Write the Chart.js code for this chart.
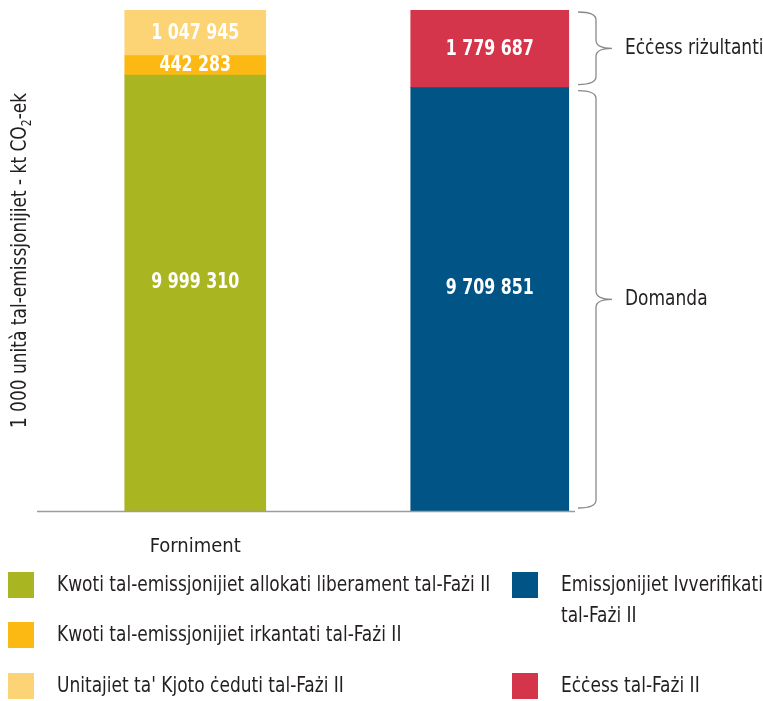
<!DOCTYPE html>
<html>
<head>
<meta charset="utf-8">
<script src="https://cdn.jsdelivr.net/npm/chart.js@4.4.1/dist/chart.umd.min.js"></script>
<style>
  html, body { margin: 0; padding: 0; background: #fff; }
  #wrap { width: 763px; height: 701px; }
</style>
</head>
<body>
<div id="wrap"><canvas id="myChart" width="763" height="701"></canvas></div>
<script>
var FONT = "'Liberation Sans Narrow', 'DejaVu Sans Condensed', sans-serif";
var TEXT = '#231f20';
var SX = 0.86; // horizontal squeeze to get a condensed look

var categories = ['Forniment', ''];
var allocatedFree = [9999310, null];
var auctioned = [442283, null];
var kyotoUnits = [1047945, null];
var verifiedEmissions = [null, 9709851];
var surplus = [null, 1779687];

var seriesNames = [
  'Kwoti tal-emissjonijiet allokati liberament tal-Fażi II',
  'Kwoti tal-emissjonijiet irkantati tal-Fażi II',
  "Unitajiet ta' Kjoto ċeduti tal-Fażi II",
  'Emissjonijiet Ivverifikati tal-Fażi II',
  'Eċċess tal-Fażi II'
];
var braceLabels = ['Eċċess riżultanti', 'Domanda'];
var yTitle = ['1 000 unità tal-emissjonijiet - kt CO', '2', '-ek'];

var colors = ['#a9b621', '#fdb913', '#fcd375', '#005486', '#d5354a'];

function fmt(v) {
  return String(v).replace(/\B(?=(\d{3})+(?!\d))/g, ' ');
}

// draws squeezed text, returns its width on screen
function sText(ctx, txt, x, y, align, font, sx) {
  sx = sx || SX;
  ctx.save();
  ctx.font = font;
  var w = ctx.measureText(txt).width * sx;
  var left = x;
  if (align === 'center') left = x - w / 2;
  ctx.translate(left, y);
  ctx.scale(sx, 1);
  ctx.textAlign = 'left';
  ctx.fillText(txt, 0, 0);
  ctx.restore();
  return w;
}

var overlay = {
  id: 'overlay',
  afterDatasetsDraw: function (chart) {
    var ctx = chart.ctx;
    var y = chart.scales.y;
    var area = chart.chartArea;
    ctx.save();
    ctx.textBaseline = 'middle';

    // value labels
    ctx.fillStyle = '#fff';
    chart.data.datasets.forEach(function (ds, i) {
      var meta = chart.getDatasetMeta(i);
      meta.data.forEach(function (bar, j) {
        var v = ds.data[j];
        if (v == null) return;
        var h = bar.base - bar.y;
        var cy = bar.y + h / 2 - (h > 200 ? 11 : 0);
        sText(ctx, fmt(v), bar.x, cy, 'center', 'bold 22px ' + FONT, 0.8);
      });
    });

    // x axis line
    ctx.strokeStyle = '#9c9c9c';
    ctx.lineWidth = 1.5;
    ctx.beginPath();
    ctx.moveTo(37, area.bottom + 0.5);
    ctx.lineTo(575, area.bottom + 0.5);
    ctx.stroke();

    // braces
    var blueTop = y.getPixelForValue(verifiedEmissions[1]);
    var total = y.getPixelForValue(verifiedEmissions[1] + surplus[1]);
    function brace(y0, y1) {
      var x0 = 578, xs = 596, xt = 612, r = 8;
      var ym = (y0 + y1) / 2;
      ctx.beginPath();
      ctx.moveTo(x0, y0);
      ctx.quadraticCurveTo(xs, y0, xs, y0 + r);
      ctx.lineTo(xs, ym - r);
      ctx.quadraticCurveTo(xs, ym, xt, ym);
      ctx.quadraticCurveTo(xs, ym, xs, ym + r);
      ctx.lineTo(xs, y1 - r);
      ctx.quadraticCurveTo(xs, y1, x0, y1);
      ctx.stroke();
      return ym;
    }
    ctx.strokeStyle = '#8a8a8a';
    ctx.lineWidth = 1.3;
    var m1 = brace(total + 2, blueTop - 3);
    var m2 = brace(blueTop + 3, area.bottom - 3);
    ctx.fillStyle = TEXT;
    var f22 = '22px ' + FONT;
    sText(ctx, braceLabels[0], 625, m1, 'left', f22);
    sText(ctx, braceLabels[1], 625, m2, 'left', f22);

    // y title
    ctx.save();
    ctx.translate(20, (area.top + area.bottom) / 2);
    ctx.rotate(-Math.PI / 2);
    ctx.font = f22;
    var w0 = ctx.measureText(yTitle[0]).width * SX;
    ctx.font = '14px ' + FONT;
    var w1 = ctx.measureText(yTitle[1]).width * SX;
    ctx.font = f22;
    var w2 = ctx.measureText(yTitle[2]).width * SX;
    var sx = -(w0 + w1 + w2) / 2;
    sText(ctx, yTitle[0], sx, 0, 'left', f22);
    sText(ctx, yTitle[1], sx + w0, 7, 'left', '14px ' + FONT);
    sText(ctx, yTitle[2], sx + w0 + w1, 0, 'left', f22);
    ctx.restore();

    // legend
    var items = [
      [8, 585, 0, [seriesNames[0]]],
      [8, 635, 1, [seriesNames[1]]],
      [8, 686, 2, [seriesNames[2]]],
      [512, 585, 3, ['Emissjonijiet Ivverifikati', 'tal-Fażi II']],
      [512, 686, 4, [seriesNames[4]]]
    ];
    items.forEach(function (it) {
      ctx.fillStyle = colors[it[2]];
      ctx.fillRect(it[0], it[1] - 13, 26, 26);
      ctx.fillStyle = TEXT;
      it[3].forEach(function (line, k) {
        sText(ctx, line, it[0] + 49, it[1] + k * 31, 'left', f22);
      });
    });
    ctx.restore();
  }
};

var ctx = document.getElementById('myChart');
var thick = [141, 141, 141, 158, 158];
var seriesData = [allocatedFree, auctioned, kyotoUnits, verifiedEmissions, surplus];

var graphData = {
  type: 'bar',
  data: {
    labels: categories,
    datasets: seriesData.map(function (d, i) {
      return {
        label: seriesNames[i],
        data: d,
        backgroundColor: colors[i],
        borderWidth: 0,
        barThickness: thick[i],
        stack: 's'
      };
    })
  },
  options: {
    responsive: false,
    animation: false,
    layout: { padding: { left: 48, right: 126, top: 10, bottom: 126 } },
    plugins: { legend: { display: false }, tooltip: { enabled: false } },
    scales: {
      x: {
        stacked: true,
        grid: { display: false },
        border: { display: false },
        ticks: { color: TEXT, font: { family: FONT, size: 20 }, padding: 16 }
      },
      y: {
        stacked: true,
        display: false,
        min: 0,
        max: 11489538
      }
    }
  },
  plugins: [overlay]
};

var myChart = new Chart(ctx, graphData);
</script>
</body>
</html>
